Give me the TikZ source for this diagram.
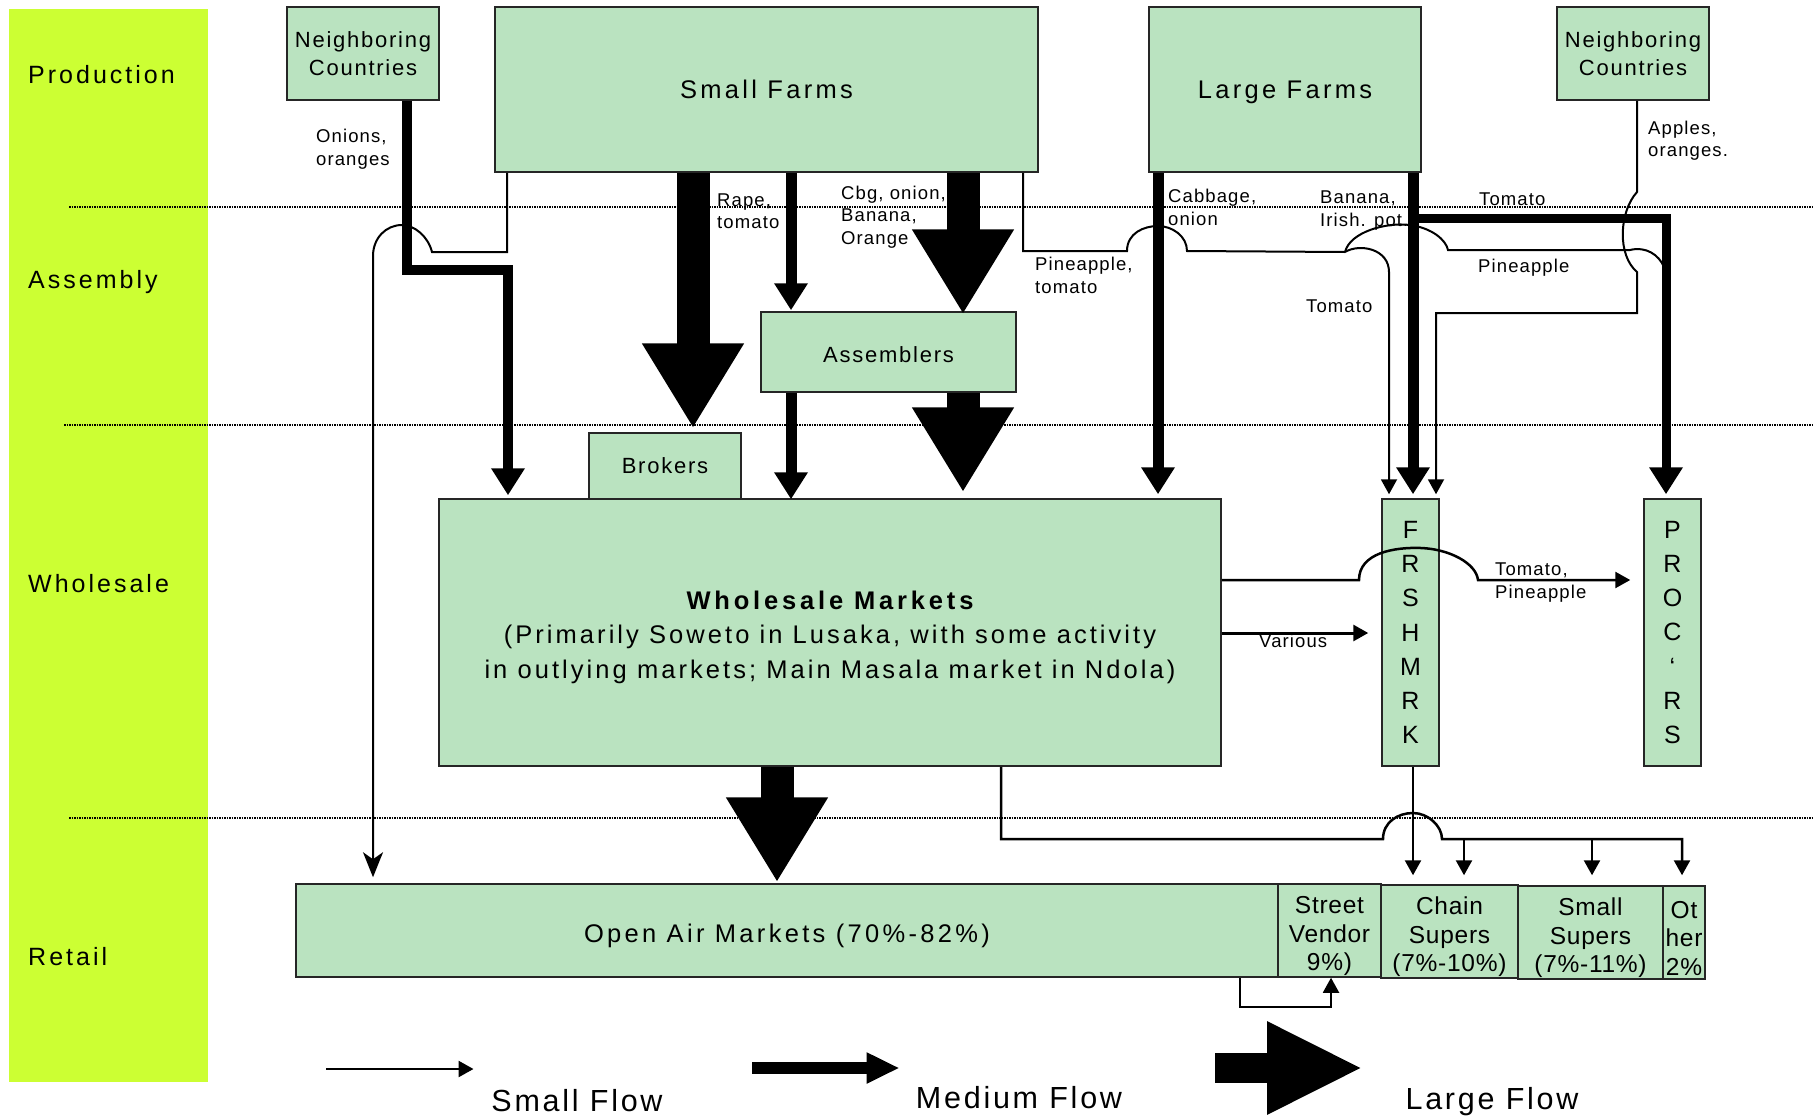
\documentclass[tikz,border=0pt]{standalone}
\usepackage{fontspec}
\setmainfont{Liberation Sans}
\newfontfamily\trackwide[LetterSpace=12]{Liberation Sans}
\newfontfamily\trackmarket[LetterSpace=13]{Liberation Sans}
\newfontfamily\trackmid[LetterSpace=8]{Liberation Sans}
\newfontfamily\tracklabel[LetterSpace=6]{Liberation Sans}
\newfontfamily\tracknarrow[LetterSpace=3]{Liberation Sans}
\newfontfamily\tracklegend[LetterSpace=9]{Liberation Sans}
\usetikzlibrary{arrows.meta}
\definecolor{boxgreen}{RGB}{186,227,192}
\definecolor{stagelime}{RGB}{204,255,51}
% raises the first line of a node so its text block sits lower
\newcommand{\toplift}[1]{\rule{0pt}{#1}}

\tikzset{
  box/.style={draw=black!85, line width=1.5pt, fill=boxgreen, inner sep=0pt, align=center},
  bigtext/.style={font=\trackmarket\fontsize{25.5pt}{30pt}\selectfont, text depth=0pt},
  midtext/.style={font=\trackmid\fontsize{22pt}{27.5pt}\selectfont},
  retailtext/.style={font=\tracknarrow\fontsize{24.5pt}{28.5pt}\selectfont},
  lettertext/.style={font=\fontsize{25pt}{34.2pt}\selectfont},
  stagelabel/.style={anchor=base west, inner sep=0pt, font=\trackwide\fontsize{25pt}{30pt}\selectfont},
  flowlabel/.style={anchor=west, inner sep=0pt, align=left, font=\tracklabel\fontsize{18.5pt}{22.5pt}\selectfont},
  legendlabel/.style={anchor=base, inner sep=0pt, font=\tracklegend\fontsize{30.5pt}{36pt}\selectfont},
  stageline/.style={line width=1.6pt, dash pattern=on 1.5pt off 1pt},
  bigflow/.style={line width=33pt, -{Triangle[width=96pt,length=85pt]}},
  midflow/.style={line width=11pt, line join=miter, -{Triangle[width=32pt,length=27pt]}},
  smallflow/.style={line width=2pt, -{Triangle[width=16pt,length=15pt]}},
  thinline/.style={line width=2pt},
}

\begin{document}
\begin{tikzpicture}[x=1pt,y=-1pt]
\useasboundingbox (0,0) rectangle (1814,1116);

% stage band and stage names
\fill[stagelime] (9,9) rectangle (208,1082);
\node[stagelabel] (sprod) at (28,84) {Production};
\node[stagelabel] (sasm)  at (28,288) {Assembly};
\node[stagelabel] (swhl)  at (28,592) {Wholesale};
\node[stagelabel] (sret)  at (28,965) {Retail};

% stage separators
\draw[stageline] (69,207) -- (1814,207);
\draw[stageline] (64,425) -- (1814,425);
\draw[stageline] (69,818) -- (1814,818);

% production
\node[box, midtext, minimum width=152pt, minimum height=93pt] (ncl) at (363,53.5) {Neighboring\\Countries};
\node[box, bigtext, minimum width=543pt, minimum height=165pt] (sf) at (766.5,89.5) {Small Farms};
\node[box, bigtext, minimum width=272pt, minimum height=165pt] (lf) at (1285,89.5) {Large Farms};
\node[box, midtext, minimum width=152pt, minimum height=93pt] (ncr) at (1633,53.5) {Neighboring\\Countries};

% assembly
\node[box, midtext, text depth=0pt, minimum width=255pt, minimum height=80pt] (asm) at (888.5,352) {\toplift{20pt}Assemblers};

% wholesale
\node[box, font=\trackwide\fontsize{25.5pt}{34.5pt}\selectfont, minimum width=782pt, minimum height=267pt] (wm) at (830,632.5)
  {\toplift{28pt}{\addfontfeatures{LetterSpace=15}\bfseries Wholesale Markets}\\(Primarily Soweto in Lusaka, with some activity\\in outlying markets; Main Masala market in Ndola)};
\node[box, midtext, minimum width=152pt, minimum height=66pt] (brk) at (665,466) {Brokers};
\node[box, lettertext, minimum width=57pt, minimum height=267pt] (frs) at (1410.5,632.5) {F\\R\\S\\H\\M\\R\\K};
\node[box, lettertext, minimum width=57pt, minimum height=267pt] (prc) at (1672.5,632.5) {P\\R\\O\\C\\‘\\R\\S};

% retail
\node[box, bigtext, minimum width=982pt, minimum height=93pt] (oam) at (787,930.5) {\toplift{24pt}Open Air Markets (70\%-82\%)};
\node[box, retailtext, minimum width=103pt, minimum height=93pt] (sv) at (1329.5,930.5) {\toplift{29pt}Street\\Vendor\\9\%)};
\node[box, retailtext, minimum width=137pt, minimum height=93pt] (cs) at (1449.5,931.5) {\toplift{29pt}Chain\\Supers\\(7\%-10\%)};
\node[box, retailtext, minimum width=145pt, minimum height=93pt] (ss) at (1590.5,932.5) {\toplift{29pt}Small\\Supers\\(7\%-11\%)};
\node[box, retailtext, minimum width=42pt, minimum height=93pt] (oth) at (1684,932.5) {\toplift{29pt}Ot\\her\\2\%};

% large flows
\draw[bigflow, shorten >=4pt] (693,0 |- sf.south) -- (693,0 |- brk.north);
\draw[bigflow, shorten >=-3pt] (963,0 |- sf.south) -- (963,0 |- asm.north);
\draw[bigflow, shorten >=6pt] (963,0 |- asm.south) -- (963,0 |- wm.north);
\draw[bigflow, shorten >=1pt] (777,0 |- wm.south) -- (777,0 |- oam.north);

% medium flows
\draw[midflow, shorten >=1pt] (791,0 |- sf.south) -- (791,0 |- asm.north);
\draw[midflow, shorten >=-1pt] (791,0 |- asm.south) -- (791,0 |- wm.north);
\draw[midflow, shorten >=4pt] (1158,0 |- lf.south) -- (1158,0 |- wm.north);
\draw[midflow, shorten >=4pt] (1413,0 |- lf.south) -- (1413,0 |- frs.north);
\coordinate (tomb) at (1413,218);
\draw[midflow, line width=9pt, shorten >=4pt] (tomb) -- (1666,218) -- (1666,0 |- prc.north);
\draw[midflow, line width=10pt, shorten >=3pt] (407,0 |- ncl.south) -- (407,270) -- (508,270) -- (508,0 |- wm.north);

% small flows
\draw[thinline, -{Stealth[width=20pt,length=25pt,inset=7pt]}, shorten >=6pt]
  (507,0 |- sf.south) -- (507,252) -- (432,252)
  .. controls (428,236) and (414,225) .. (402,225)
  .. controls (386,225) and (373,238) .. (373,256) -- (373,0 |- oam.north);

\coordinate (pj) at (1345,252);
\coordinate (pm) at (1664,267);
\draw[thinline] (1023,0 |- sf.south) -- (1023,251) -- (1127,251)
  .. controls (1127,233) and (1144,226) .. (1158,226)
  .. controls (1172,226) and (1187,236) .. (1187,251) -- (pj);
\draw[smallflow, shorten >=4pt] (pj) .. controls (1360,243) and (1389,249) .. (1389,272) -- (1389,0 |- frs.north);
\draw[thinline] (pj) .. controls (1350,232) and (1386,222) .. (1410,225)
  .. controls (1432,228) and (1446,240) .. (1448,250) -- (1630,250)
  .. controls (1646,246) and (1659,255) .. (pm);

\draw[smallflow, shorten >=4pt] (1637,0 |- ncr.south) -- (1637,192)
  .. controls (1619,212) and (1617,255) .. (1637,272) -- (1637,313) -- (1436,313) -- (1436,0 |- frs.north);

\draw[smallflow, line width=3pt, shorten >=13pt] (wm.east |- 0,633) -- (frs.west |- 0,633);
\draw[smallflow, line width=2.5pt, shorten >=13pt] (wm.east |- 0,580) -- (1359,580)
  .. controls (1359,553) and (1394,547) .. (1421,548)
  .. controls (1449,549) and (1476,563) .. (1478,580) -- (prc.west |- 0,580);

\draw[smallflow, line width=2.5pt, shorten >=9pt] (1413,0 |- frs.south) -- (1413,0 |- cs.north);
\coordinate (rch) at (1464,839);
\coordinate (rss) at (1592,839);
\draw[smallflow, line width=2.5pt, shorten >=10pt] (1001,0 |- wm.south) -- (1001,839) -- (1383,839)
  .. controls (1383,822) and (1398,813) .. (1413,813)
  .. controls (1428,813) and (1442,826) .. (1442,839) -- (1682,839) -- (1682,0 |- oth.north);
\draw[smallflow, line width=2.5pt, shorten >=9pt] (rch) -- (rch |- cs.north);
\draw[smallflow, line width=2.5pt, shorten >=10pt] (rss) -- (rss |- ss.north);
\draw[smallflow, shorten >=0pt] (1240,0 |- oam.south) -- (1240,1007) -- (1331,1007) -- (1331,0 |- sv.south);

% flow labels
\node[flowlabel] (lonion) at (316,149.7) {\strut Onions,\\oranges\strut};
\node[flowlabel] (lrape)  at (717,213.2) {\strut Rape,\\tomato\strut};
\node[flowlabel] (lcbg)   at (841,217.2) {\strut Cbg, onion,\\Banana,\\Orange\strut};
\node[flowlabel] (lpine)  at (1035,277.7) {\strut Pineapple,\\tomato\strut};
\node[flowlabel] (lcab)   at (1168,209.7) {\strut Cabbage,\\onion\strut};
\node[flowlabel] (lban)   at (1320,210.7) {\strut Banana,\\Irish. pot.\strut};
\node[flowlabel] (ltomt)  at (1479,201.2) {\strut Tomato\strut};
\node[flowlabel] (lpinm)  at (1478,268.2) {\strut Pineapple\strut};
\node[flowlabel] (ltomm)  at (1306,308.2) {\strut Tomato\strut};
\node[flowlabel] (lapp)   at (1648,141.2) {\strut Apples,\\oranges.\strut};
\node[flowlabel] (lvar)   at (1259,643.2) {\strut Various\strut};
\node[flowlabel] (ltp)    at (1495,582.7) {\strut Tomato,\\Pineapple\strut};

% legend
\coordinate (lgs0) at (326,1069); \coordinate (lgs1) at (472,1069);
\coordinate (lgm0) at (752,1068); \coordinate (lgm1) at (898,1068);
\coordinate (lgl0) at (1215,1068); \coordinate (lgl1) at (1361,1068);
\draw[smallflow, line width=2.5pt, shorten >=-1.5pt] (lgs0) -- (lgs1);
\draw[line width=12pt, shorten >=-1.5pt, -{Triangle[width=29pt,length=33pt]}] (lgm0) -- (lgm1);
\draw[line width=30pt, shorten >=-2pt, -{Triangle[width=86pt,length=96pt]}] (lgl0) -- (lgl1);
\node[legendlabel] (tsmall) at (577,1111) {Small Flow};
\node[legendlabel] (tmed)   at (1019,1108) {Medium Flow};
\node[legendlabel] (tlarge) at (1492,1109) {Large Flow};
\end{tikzpicture}
\end{document}
